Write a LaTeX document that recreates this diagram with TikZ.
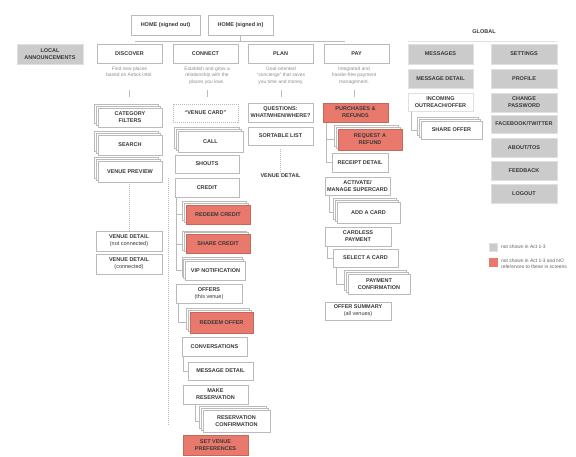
\documentclass[tikz,border=0pt]{standalone}
\usepackage{fontspec}
\setmainfont{Liberation Sans}
\usetikzlibrary{shadows,backgrounds}
\definecolor{redbox}{HTML}{E9796C}
\definecolor{graybox}{HTML}{CBCBCB}
\definecolor{edge}{HTML}{BBBBBB}
\definecolor{grayedge}{HTML}{E0E0E0}
\definecolor{txt}{HTML}{383838}
\definecolor{desc}{HTML}{8C8C8C}
\begin{document}
\begin{tikzpicture}[x=1pt,y=-1pt,
  bx/.style={draw=edge, line width=0.7pt, fill=white, text=txt,
    font=\fontsize{5.5}{6.9}\selectfont\bfseries, align=center, inner sep=0pt},
  sz/.style 2 args={minimum width=#1pt, minimum height=#2pt},
  gbx/.style={bx, fill=graybox, draw=grayedge},
  rbx/.style={bx, fill=redbox, draw=redbox!85!black},
  stk/.style={double copy shadow={shadow xshift=-1.7pt, shadow yshift=1.7pt, fill=white, draw=edge, line width=0.7pt}},
  dsc/.style={text=desc, font=\fontsize{4.9}{6.7}\selectfont, align=center, inner sep=0pt, anchor=north},
  ln/.style={draw=edge, line width=0.7pt},
  dln/.style={draw=edge, line width=0.7pt, dash pattern=on 0.8pt off 1.2pt},
  lbl/.style={text=txt, font=\fontsize{5.5}{6.9}\selectfont\bfseries, inner sep=0pt}
]
\useasboundingbox (0,0) rectangle (576,456);

% top
\node[bx, sz={69}{20}] (homeout) at (165.5,25) {HOME (signed out)};
\node[bx, sz={65}{20}] (homein) at (240.5,25) {HOME (signed in)};
\coordinate (barL) at (135,41);
\coordinate (barR) at (345,41);
\coordinate (barM) at (240.5,41);
\draw[ln] (barL) -- (barR);
\draw[ln] (homein.south) -- (barM);

% level 1
\node[gbx, sz={66}{20}] (local) at (50,54) {LOCAL\\ANNOUNCEMENTS};
\node[bx, sz={65}{19}] (discover) at (129.5,53.5) {DISCOVER};
\node[bx, sz={65}{19}] (connect) at (205.5,53.5) {CONNECT};
\node[bx, sz={65}{19}] (plan) at (280.5,53.5) {PLAN};
\node[bx, sz={65}{19}] (pay) at (356.5,53.5) {PAY};

\node[dsc] (ddisc) at (129.5,66.5) {Find new places\\based on Airtick intel.};
\node[dsc] (dconn) at (207,66.5) {Establish and grow a\\relationship with the\\places you love.};
\node[dsc] (dplan) at (281,66.5) {Goal-oriented\\``concierge'' that saves\\you time and money.};
\node[dsc] (dpay) at (354,66.5) {Integrated and\\hassle-free payment\\management.};
\coordinate (t1a) at (129,90); \coordinate (t1b) at (129,97);
\coordinate (t2a) at (207,90); \coordinate (t2b) at (207,97);
\coordinate (t3a) at (281,90); \coordinate (t3b) at (281,97);
\coordinate (t4a) at (354,90); \coordinate (t4b) at (354,97);
\draw[ln] (t1a) -- (t1b);
\draw[ln] (t2a) -- (t2b);
\draw[ln] (t3a) -- (t3b);
\draw[ln] (t4a) -- (t4b);

% DISCOVER column
\node[bx, stk, sz={64}{19}] (catf) at (130,117.5) {CATEGORY\\FILTERS};
\node[bx, stk, sz={64}{20}] (search) at (130,145) {SEARCH};
\node[bx, stk, sz={64}{21}] (vprev) at (130,171.5) {VENUE PREVIEW};
\node[bx, sz={66}{20}] (vdnc) at (129,241) {VENUE DETAIL\\\mdseries(not connected)};
\node[bx, sz={66}{20}] (vdc) at (129,264) {VENUE DETAIL\\\mdseries(connected)};
\draw[dln] (vprev.south -| vdnc.north) -- (vdnc.north);
\coordinate (dotA) at (168,178);
\coordinate (dotB) at (168,425);
\draw[dln] (dotA) -- (dotB);

% CONNECT column
\node[bx, sz={65}{18}, dash pattern=on 1pt off 1pt] (vcard) at (205.5,113) {``VENUE CARD''};
\node[bx, stk, sz={65}{21}] (call) at (210.5,141.5) {CALL};
\node[bx, sz={64}{18}] (shouts) at (207,164) {SHOUTS};
\node[bx, sz={64}{19}] (credit) at (207,187.5) {CREDIT};
\node[rbx, stk, sz={64}{19}] (rcredit) at (218,214.5) {REDEEM CREDIT};
\node[rbx, stk, sz={64}{19}] (scredit) at (218,244) {SHARE CREDIT};
\node[bx, stk, sz={60}{19}] (vip) at (215.5,270.5) {VIP NOTIFICATION};
\node[bx, sz={66}{19}] (offers) at (209,293.5) {OFFERS\\\mdseries(this venue)};
\node[rbx, stk, sz={63}{21}] (roffer) at (221.5,322.5) {REDEEM OFFER};
\node[bx, sz={65}{19}] (conv) at (214.5,346.5) {CONVERSATIONS};
\node[bx, sz={65}{18}] (mdetail) at (220.5,371) {MESSAGE DETAIL};
\node[bx, sz={65}{19}] (mres) at (215.5,394.5) {MAKE\\RESERVATION};
\node[bx, stk, sz={67}{22}] (rconf) at (236.5,421) {RESERVATION\\CONFIRMATION};
\node[rbx, sz={65}{20}] (svp) at (215.5,445) {SET VENUE\\PREFERENCES};

% PLAN column
\node[bx, sz={65}{19}] (quest) at (280.5,112.5) {QUESTIONS:\\WHAT/WHEN/WHERE?};
\node[bx, sz={65}{18}] (slist) at (280.5,136) {SORTABLE LIST};
\node[lbl] (pvd) at (280.5,176) {VENUE DETAIL};
\draw[dln] (slist.south) ++(0,4) -- (pvd.north);

% PAY column
\node[rbx, sz={65}{19}] (purch) at (355.5,112.5) {PURCHASES \&\\REFUNDS};
\node[rbx, stk, sz={64}{21}] (refund) at (370,139.5) {REQUEST A\\REFUND};
\node[bx, sz={56}{19}] (receipt) at (360,162.5) {RECEIPT DETAIL};
\node[bx, sz={65}{18}] (activate) at (357.5,186) {ACTIVATE/\\MANAGE SUPERCARD};
\node[bx, stk, sz={63}{21}] (addcard) at (368.5,212.5) {ADD A CARD};
\node[bx, sz={66}{19}] (cardless) at (358,236.5) {CARDLESS\\PAYMENT};
\node[bx, sz={65}{18}] (select) at (365.5,258) {SELECT A CARD};
\node[bx, stk, sz={62}{20}] (payconf) at (379,284) {PAYMENT\\CONFIRMATION};
\node[bx, sz={66}{18}] (osum) at (358,311) {OFFER SUMMARY\\\mdseries(all venues)};

% GLOBAL
\node[lbl] (global) at (484,32) {GLOBAL};
\coordinate (gL) at (408,41);
\coordinate (gR) at (557,41);
\draw[draw=grayedge, line width=0.8pt] (gL) -- (gR);
\node[gbx, sz={65}{20}] (msgs) at (440.5,54) {MESSAGES};
\node[gbx, sz={65}{19}] (gmd) at (440.5,78.5) {MESSAGE DETAIL};
\node[bx, draw=grayedge, sz={65}{18}] (incoming) at (440.5,102) {INCOMING\\OUTREACH/OFFER};
\node[bx, stk, sz={61}{18}] (share) at (451.5,130) {SHARE OFFER};
\node[gbx, sz={66}{20}] (settings) at (524,54) {SETTINGS};
\node[gbx, sz={66}{19}] (profile) at (524,78.5) {PROFILE};
\node[gbx, sz={66}{19}] (chpw) at (524,102.5) {CHANGE\\PASSWORD};
\node[gbx, sz={66}{18}] (fb) at (524,124) {FACEBOOK/TWITTER};
\node[gbx, sz={66}{19}] (about) at (524,147.5) {ABOUT/TOS};
\node[gbx, sz={66}{19}] (feedback) at (524,170.5) {FEEDBACK};
\node[gbx, sz={66}{19}] (logout) at (524,193.5) {LOGOUT};

% legend
\node[fill=graybox, draw=grayedge, line width=0.4pt, minimum size=8pt, inner sep=0pt] (lg1) at (493,247) {};
\node[dsc, anchor=west, text=txt!80] (lg1t) at (501,247) {not shown in Act 1-3};
\node[fill=redbox, draw=redbox, line width=0.4pt, minimum size=8pt, inner sep=0pt] (lg2) at (493,262) {};
\node[dsc, anchor=north west, align=left, text=txt!80] (lg2t) at (501,258.5) {not shown in Act 1-3 and NO\\references to these in screens};

% brackets
\begin{scope}[on background layer]
\draw[ln] ([xshift=1.5pt]credit.south west) |- (rcredit.west);
\draw[ln] ([xshift=1.5pt]credit.south west) |- (scredit.west);
\draw[ln] ([xshift=1.5pt]credit.south west) |- (vip.west);
\draw[ln] ([xshift=3pt]offers.south west) |- (roffer.west);
\draw[ln] ([xshift=1.5pt]conv.south west) |- (mdetail.west);
\draw[ln] ([xshift=13pt]mres.south west) |- (rconf.west);
\draw[ln] ([xshift=4pt]purch.south west) |- (refund.west);
\draw[ln] ([xshift=4pt]purch.south west) |- (receipt.west);
\draw[ln] ([xshift=4.5pt]activate.south west) |- (addcard.west);
\draw[ln] ([xshift=3pt]cardless.south west) |- (select.west);
\draw[ln] ([xshift=4pt]select.south west) |- (payconf.west);
\draw[ln] ([xshift=4pt]incoming.south west) |- (share.west);
\end{scope}
\end{tikzpicture}
\end{document}
